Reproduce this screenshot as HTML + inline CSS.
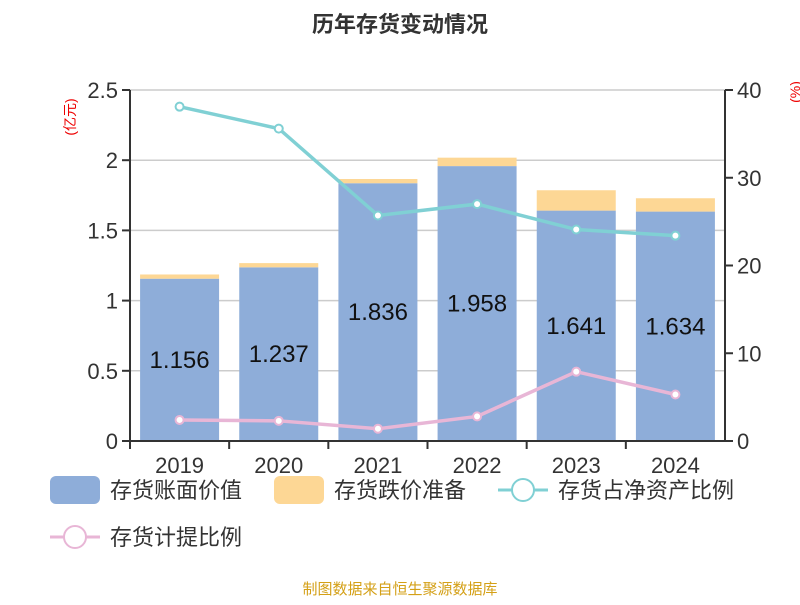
<!DOCTYPE html>
<html><head><meta charset="utf-8"><style>
body{margin:0;background:#fff;width:800px;height:600px;overflow:hidden;font-family:"Liberation Sans","Noto Sans CJK SC",sans-serif}
</style></head><body>
<svg id="c" width="800" height="600" xmlns="http://www.w3.org/2000/svg" font-family="Liberation Sans, Noto Sans CJK SC, sans-serif">
<text x="400" y="32" text-anchor="middle" font-size="22" font-weight="bold" fill="#333">历年存货变动情况</text>
<text transform="translate(75,117) rotate(-90)" text-anchor="middle" font-size="14" fill="#e00">(亿元)</text>
<text transform="translate(800,92) rotate(-90)" text-anchor="middle" font-size="14" fill="#e00">(%)</text>
<g id="grid"></g><g id="bars"></g><g id="lines"></g><g id="axes"></g>
<g font-size="22" fill="#333">
<rect x="50" y="476" width="50" height="28" rx="6" fill="#8eadd9"/>
<text x="110" y="498">存货账面价值</text>
<rect x="274" y="476" width="50" height="28" rx="6" fill="#fdd795"/>
<text x="334" y="498">存货跌价准备</text>
<line x1="498" y1="490" x2="548" y2="490" stroke="#80d0d4" stroke-width="3"/><circle cx="523" cy="490" r="11" fill="#fff" stroke="#80d0d4" stroke-width="2"/>
<text x="558" y="498">存货占净资产比例</text>
<line x1="50" y1="537" x2="100" y2="537" stroke="#e8b6d6" stroke-width="3"/><circle cx="75" cy="537" r="11" fill="#fff" stroke="#e8b6d6" stroke-width="2"/>
<text x="110" y="545">存货计提比例</text>
</g>
<text x="400" y="594" text-anchor="middle" font-size="15" fill="#d4a017">制图数据来自恒生聚源数据库</text>
</svg>
<script>
const years=["2019","2020","2021","2022","2023","2024"];
const bookValue=[1.156,1.237,1.836,1.958,1.641,1.634];
const reserve=[0.03,0.03,0.03,0.06,0.145,0.095];
const netAssetRatio=[38.1,35.6,25.7,27.0,24.1,23.4];
const provisionRatio=[2.4,2.3,1.4,2.8,7.9,5.3];
const leftTicks=["0","0.5","1","1.5","2","2.5"];
const rightTicks=["0","10","20","30","40"];
const NS="http://www.w3.org/2000/svg";
const L=130,R=725,T=90,B=441;
const band=(R-L)/years.length;
const xc=i=>L+band*(i+0.5);
const yl=v=>B-v/2.5*(B-T);
const yr=v=>B-v/40*(B-T);
function mk(p,tag,a){const e=document.createElementNS(NS,tag);for(const k in a)e.setAttribute(k,a[k]);document.getElementById(p).appendChild(e);return e;}
leftTicks.forEach((t,i)=>{const y=yl(+t);
 if(i>0){const g=mk('grid','line',{x1:L,x2:R,y1:y,y2:y,stroke:'#ccc','stroke-width':1.5});}
 mk('axes','line',{x1:L-8,x2:L,y1:y,y2:y,stroke:'#333','stroke-width':2});
 const tx=mk('axes','text',{x:L-12,y:y+8,'text-anchor':'end','font-size':22,fill:'#333'});tx.textContent=t;
 
 });
rightTicks.forEach(t=>{const y=yr(+t);
 mk('axes','line',{x1:R,x2:R+8,y1:y,y2:y,stroke:'#333','stroke-width':2});
 const tx=mk('axes','text',{x:R+12,y:y+8,'font-size':22,fill:'#333'});tx.textContent=t;
 
 });
mk('axes','line',{x1:L,x2:L,y1:T,y2:B,stroke:'#333','stroke-width':2});
mk('axes','line',{x1:R,x2:R,y1:T,y2:B,stroke:'#333','stroke-width':2});
mk('axes','line',{x1:L,x2:R,y1:B,y2:B,stroke:'#333','stroke-width':2});
years.forEach((yv,i)=>{
 mk('axes','line',{x1:L+band*i,x2:L+band*i,y1:B,y2:B+8,stroke:'#333','stroke-width':2});
 const tx=mk('axes','text',{x:xc(i),y:B+32,'text-anchor':'middle','font-size':22,fill:'#333'});tx.textContent=yv;
 
 
 const w=79,x=xc(i)-w/2;
 const b=mk('bars','rect',{x:x,y:yl(bookValue[i]),width:w,height:B-yl(bookValue[i]),fill:'#8eadd9'});
 
 
 const r=mk('bars','rect',{x:x,y:yl(bookValue[i]+reserve[i]),width:w,height:yl(bookValue[i])-yl(bookValue[i]+reserve[i]),fill:'#fdd795'});
 
 
 const lb=mk('bars','text',{x:xc(i),y:(yl(bookValue[i])+B)/2+8,'text-anchor':'middle','font-size':24,fill:'#111'});lb.textContent=bookValue[i].toFixed(3);
 
 
});
function series(vals,color,name){
 const pl=mk('lines','polyline',{points:vals.map((v,i)=>xc(i)+','+yr(v)).join(' '),fill:'none',stroke:color,'stroke-width':3.5});
 
 
 vals.forEach((v,i)=>{const c=mk('lines','circle',{cx:xc(i),cy:yr(v),r:4,fill:'#fff',stroke:color,'stroke-width':2});
  
  });
}
series(netAssetRatio,'#80d0d4','net-asset-ratio');
series(provisionRatio,'#e8b6d6','provision-ratio');
</script>
</body></html>
